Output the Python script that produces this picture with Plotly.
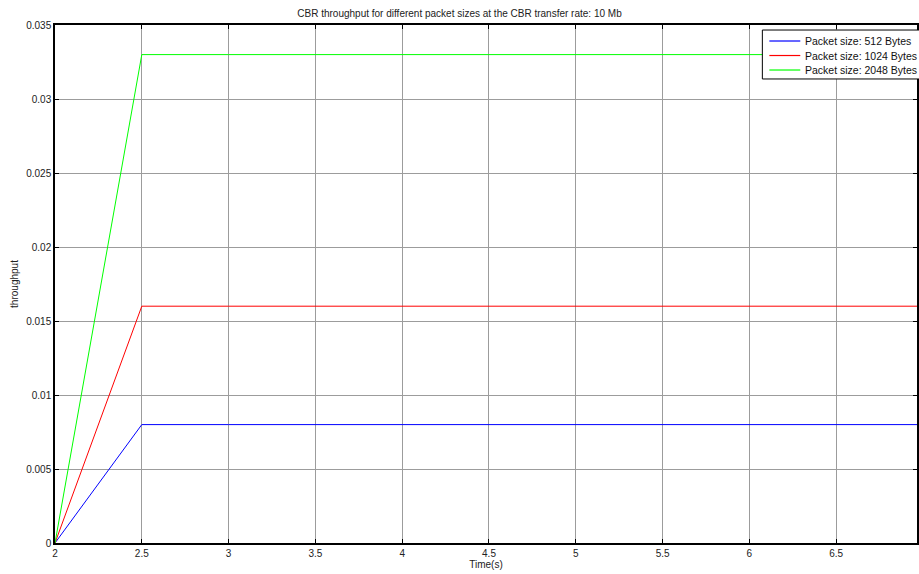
import plotly.graph_objects as go

time_s = [2.0, 2.5, 3.0, 3.5, 4.0, 4.5, 5.0, 5.5, 6.0, 6.5, 7.0]
thr_512 = [0, 0.008, 0.008, 0.008, 0.008, 0.008, 0.008, 0.008, 0.008, 0.008, 0.008]
thr_1024 = [0, 0.016, 0.016, 0.016, 0.016, 0.016, 0.016, 0.016, 0.016, 0.016, 0.016]
thr_2048 = [0, 0.033, 0.033, 0.033, 0.033, 0.033, 0.033, 0.033, 0.033, 0.033, 0.033]
names = ["Packet size: 512 Bytes", "Packet size: 1024 Bytes", "Packet size: 2048 Bytes"]
colors = ["#0000ff", "#ff0000", "#00ff00"]
x_ticks = [2, 2.5, 3, 3.5, 4, 4.5, 5, 5.5, 6, 6.5]
x_tick_text = ["2", "2.5", "3", "3.5", "4", "4.5", "5", "5.5", "6", "6.5"]
y_ticks = [0, 0.005, 0.01, 0.015, 0.02, 0.025, 0.03, 0.035]
y_tick_text = ["0", "0.005", "0.01", "0.015", "0.02", "0.025", "0.03", "0.035"]

FONT = "Liberation Sans, Arial, sans-serif"

fig = go.Figure()
for ys, nm, c in zip([thr_512, thr_1024, thr_2048], names, colors):
    fig.add_trace(go.Scatter(x=time_s, y=ys, mode="lines", name=nm,
                             line=dict(color=c, width=1), showlegend=False))

axis_common = dict(showline=True, linecolor="black", linewidth=1.5, mirror="ticks",
                   ticks="inside", ticklen=4, tickcolor="black", tickwidth=1,
                   showgrid=True, gridcolor="#9c9c9c", gridwidth=1,
                   zeroline=False,
                   tickfont=dict(family=FONT, size=10, color="#222"))

# legend box drawn in paper coordinates (MATLAB-style compact legend)
shapes = [dict(type="rect", xref="paper", yref="paper", x0=0.8206, x1=1.02,
               y0=0.8958, y1=0.9903, line=dict(color="black", width=1),
               fillcolor="white", layer="above")]
annotations = []
legend_y = [0.9691, 0.9411, 0.9131]
for nm, c, ly in zip(names, colors, legend_y):
    shapes.append(dict(type="line", xref="paper", yref="paper", x0=0.8287, x1=0.8646,
                       y0=ly, y1=ly, line=dict(color=c, width=1.2), layer="above"))
    annotations.append(dict(xref="paper", yref="paper", x=0.868, y=ly, text=nm,
                            showarrow=False, xanchor="left", yanchor="middle",
                            font=dict(family=FONT, size=10.5, color="#111")))

fig.update_layout(
    width=919, height=574,
    margin=dict(l=55, r=0, t=25, b=31),
    paper_bgcolor="white", plot_bgcolor="white",
    title=dict(text="CBR throughput for different packet sizes at the CBR transfer rate: 10 Mb",
               x=0.5, xanchor="center", y=0.977, yanchor="middle",
               font=dict(family=FONT, size=10, color="#222")),
    font=dict(family=FONT, size=10, color="#222"),
    xaxis=dict(range=[2, 2 + 864 / 174], tickvals=x_ticks, ticktext=x_tick_text,
               title=dict(text="Time(s)", standoff=2, font=dict(family=FONT, size=10)),
               **axis_common),
    yaxis=dict(range=[0, 0.035], tickvals=y_ticks, ticktext=y_tick_text,
               title=dict(text="throughput", standoff=6, font=dict(family=FONT, size=10)),
               **axis_common),
    shapes=shapes,
    annotations=annotations,
    showlegend=False,
)

fig.write_html("out.html", config={"displayModeBar": False},
               post_script="document.body.style.margin='0';")
